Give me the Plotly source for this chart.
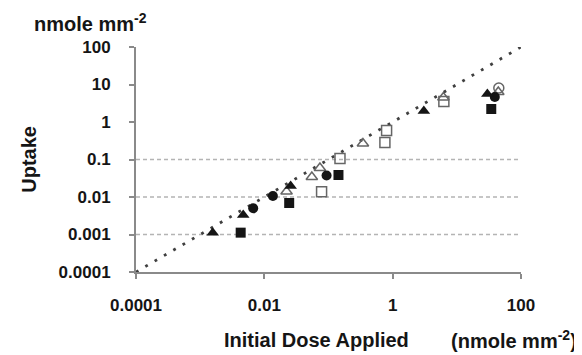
import plotly.graph_objects as go

# ---- data ----
filled_tri_x = [0.00157, 0.00469, 0.0257, 3.06, 29.9]
filled_tri_y = [0.00112, 0.0033, 0.0196, 1.96, 5.58]

filled_circ_x = [0.00671, 0.0136, 0.0933, 39.1]
filled_circ_y = [0.0050, 0.0106, 0.0374, 4.64]

filled_sq_x = [0.00428, 0.0244, 0.143, 34.4]
filled_sq_y = [0.00112, 0.00692, 0.0386, 2.22]

open_tri_x = [0.0222, 0.055, 0.0735, 0.344, 6.17, 44.3]
open_tri_y = [0.014, 0.0341, 0.0593, 0.267, 4.5, 6.3]

open_sq_x = [0.078, 0.151, 0.757, 0.804, 6.28]
open_sq_y = [0.0138, 0.106, 0.284, 0.593, 3.52]

open_circ_x = [45.1]
open_circ_y = [8.07]

identity_x = [0.0001, 100]
identity_y = [0.0001, 100]

x_tick_vals = [0.0001, 0.01, 1, 100]
x_tick_text = ["0.0001", "0.01", "1", "100"]
y_tick_vals = [0.0001, 0.001, 0.01, 0.1, 1, 10, 100]
y_tick_text = ["0.0001", "0.001", "0.01", "0.1", "1", "10", "100"]
grid_vals = [0.001, 0.01, 0.1]

FONT = "Liberation Sans, Arial, sans-serif"
INK = "#151515"

fig = go.Figure()

# reference gridlines (only at 0.001, 0.01, 0.1)
for g in grid_vals:
    fig.add_trace(go.Scatter(x=[x_tick_vals[0], x_tick_vals[-1]], y=[g, g], mode="lines",
                             line=dict(color="#b4b4b4", width=1.5, dash="4px,3px"),
                             hoverinfo="skip", showlegend=False))

# identity line
fig.add_trace(go.Scatter(x=identity_x, y=identity_y, mode="lines",
                         line=dict(color="#404040", width=2.8, dash="2.8px,8px"),
                         showlegend=False))

def pts(x, y, symbol, color, size=9, lw=1.5):
    fig.add_trace(go.Scatter(x=x, y=y, mode="markers", showlegend=False,
                             marker=dict(symbol=symbol, size=size, color=color,
                                         line=dict(color=color, width=lw))))

pts(open_sq_x, open_sq_y, "square-open", "#666666", 10)
pts(open_tri_x, open_tri_y, "triangle-up-open", "#666666", 10)
pts(open_circ_x, open_circ_y, "circle-open", "#666666", 10)
pts(filled_sq_x, filled_sq_y, "square", INK, 10, 0)
pts(filled_circ_x, filled_circ_y, "circle", INK, 10, 0)
pts(filled_tri_x, filled_tri_y, "triangle-up", INK, 11, 0)

axis_common = dict(type="log", showgrid=False, zeroline=False, showline=True,
                   linecolor="#8a8a8a", linewidth=2, ticks="outside", ticklen=5,
                   tickcolor="#8a8a8a", tickwidth=1.5,
                   tickfont=dict(family=FONT, size=17, color=INK, weight="bold"))

fig.update_xaxes(range=[-4, 2], tickvals=x_tick_vals, ticktext=x_tick_text,
                 ticklabelstandoff=12, **axis_common)
fig.update_yaxes(range=[-4, 2], tickvals=y_tick_vals, ticktext=y_tick_text,
                 ticklabelstandoff=15, **axis_common)

title_font = dict(family=FONT, size=20, color=INK, weight="bold")
fig.add_annotation(text="nmole mm<sup>-2</sup>", xref="paper", yref="paper",
                   x=-0.27, y=1.11, xanchor="left", yanchor="middle",
                   showarrow=False, font=title_font)
fig.add_annotation(text="Uptake", xref="paper", yref="paper", textangle=-90,
                   x=-0.28, y=0.5, xanchor="center", yanchor="middle",
                   showarrow=False, font=title_font)
fig.add_annotation(text="Initial Dose Applied", xref="paper", yref="paper",
                   x=0.468, y=-0.30, xanchor="center", yanchor="middle",
                   showarrow=False, font=title_font)
fig.add_annotation(text="(nmole mm<sup>-2</sup>)", xref="paper", yref="paper",
                   x=1.15, y=-0.30, xanchor="right", yanchor="middle",
                   showarrow=False, font=title_font)

# page body has an 8px margin: size the figure so the plot area lands where the reference has it
fig.update_layout(width=574, height=347, paper_bgcolor="white", plot_bgcolor="white",
                  margin=dict(l=128, r=61, t=39, b=83), showlegend=False)

fig.write_html("out.html")
